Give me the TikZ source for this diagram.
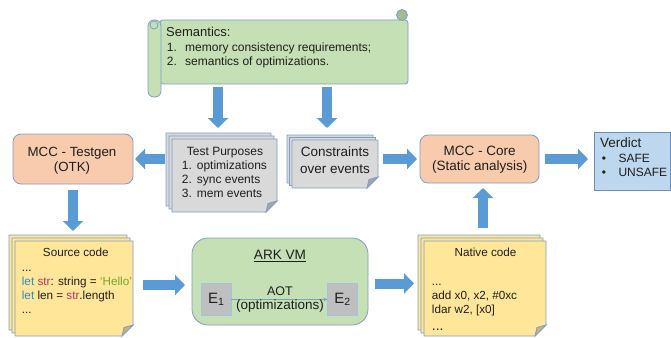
\documentclass[tikz,border=0pt]{standalone}
\usepackage{fontspec}
\setmainfont{Liberation Sans}
\usetikzlibrary{arrows.meta}
\definecolor{bordc}{HTML}{7F9DC6}
\definecolor{arrc}{HTML}{5B9BD5}
\definecolor{salmon}{HTML}{F8CBAD}
\definecolor{greenf}{HTML}{C5E0B4}
\definecolor{greend}{HTML}{A3BE8C}
\definecolor{grayp}{HTML}{D9D9D9}
\definecolor{grayf}{HTML}{A6A6A6}
\definecolor{yellp}{HTML}{FFE699}
\definecolor{yellf}{HTML}{C9B57A}
\definecolor{verdf}{HTML}{BDD7EE}
\definecolor{verdb}{HTML}{6A8EBF}
\definecolor{eboxf}{HTML}{BFBFBF}
\definecolor{eboxb}{HTML}{9DC3E6}
\definecolor{txtc}{HTML}{1E1E1E}
\definecolor{letc}{HTML}{2E8BC0}
\definecolor{strc}{HTML}{C0306A}
\definecolor{helc}{HTML}{6FA82E}
\newcommand\fs[1]{\fontsize{#1}{#1}\selectfont}
\newcommand\docpage[6]{%
  \filldraw[edge, fill=#5] (#1,#2) -- (#3,#2) -- (#3,#4-11) -- (#3-11,#4) -- (#1,#4) -- cycle;
  \filldraw[edge, fill=#6] (#3-11,#4) -- (#3-9,#4-8.5) -- (#3,#4-11) -- cycle;}
\tikzset{
  edge/.style={draw=bordc, line width=0.8pt},
  box/.style={draw=bordc, line width=0.8pt, rounded corners=8pt, inner sep=0pt, outer sep=0pt},
  frame/.style={inner sep=0pt, outer sep=0pt},
  barrow/.style={line width=10pt, draw=arrc, -{Triangle[length=10pt,width=20pt]}},
  txt/.style={inner sep=0pt, anchor=base west, text=txtc},
  ctxt/.style={inner sep=0pt, anchor=base, text=txtc},
}
\begin{document}
\begin{tikzpicture}[x=1pt,y=-1pt]
\useasboundingbox (0,0) rectangle (671,337);

% ---- scroll
\filldraw[edge, fill=greenf, rounded corners=3pt] (160,20) rectangle (408,84);
\filldraw[edge, fill=greend] (402,15) circle[radius=5.5pt];
\filldraw[edge, fill=greenf, rounded corners=6pt] (148,20) rectangle (161,97);
\draw[edge] (154,25) circle[radius=4pt];
\node[frame, minimum width=248pt, minimum height=64pt] (sem) at (284,52) {};
\node[txt] (s0) at (166,36.7) {\fs{13}Semantics:};
\node[txt] (s1n) at (166.7,51.7) {\fs{12}1.};
\node[txt] (s1) at (185,51.7) {\fs{12}memory consistency requirements;};
\node[txt] (s2n) at (166.7,65) {\fs{12}2.};
\node[txt] (s2) at (185,65) {\fs{12}semantics of optimizations.};

% ---- test purposes stack
\docpage{166}{133}{271}{206}{grayp}{grayf}
\docpage{169}{136}{274}{209}{grayp}{grayf}
\docpage{172}{139}{277}{212}{grayp}{grayf}
\node[frame, minimum width=105pt, minimum height=73pt] (tp) at (224.5,175.5) {};
\node[ctxt] (tp0) at (225,155) {\fs{12}Test Purposes};
\node[txt] (tp1n) at (181.7,169) {\fs{12}1.};
\node[txt] (tp1) at (196.7,169) {\fs{12}optimizations};
\node[txt] (tp2n) at (181.7,183) {\fs{12}2.};
\node[txt] (tp2) at (196.7,183) {\fs{12}sync events};
\node[txt] (tp3n) at (181.7,197) {\fs{12}3.};
\node[txt] (tp3) at (196.7,197) {\fs{12}mem events};

% ---- constraints stack
\docpage{287}{135}{373}{183}{grayp}{grayf}
\docpage{289.5}{137.5}{375.5}{185.5}{grayp}{grayf}
\docpage{292}{140}{378}{188}{grayp}{grayf}
\node[frame, minimum width=86pt, minimum height=48pt] (cons) at (335,164) {};
\node[ctxt] (c1) at (335,156.7) {\fs{13.5}Constraints};
\node[ctxt] (c2) at (335,173.3) {\fs{13.5}over events};

% ---- MCC Testgen
\node[box, fill=salmon, minimum width=120pt, minimum height=50pt] (tg) at (73,159) {};
\node[ctxt] (tg1) at (72,156) {\fs{13.3}MCC - Testgen};
\node[ctxt] (tg2) at (72,171.7) {\fs{13.3}(OTK)};

% ---- MCC Core
\node[box, fill=salmon, minimum width=119pt, minimum height=48pt] (core) at (479.5,159) {};
\node[ctxt] (co1) at (479.7,155.7) {\fs{13.5}MCC - Core};
\node[ctxt] (co2) at (479.7,170.7) {\fs{13.5}(Static analysis)};

% ---- Verdict
\node[frame, draw=verdb, line width=0.8pt, fill=verdf, minimum width=76pt, minimum height=58pt] (ver) at (632,161) {};
\node[txt] (v0) at (600,147.7) {\fs{13.5}Verdict};
\node[txt] (v1b) at (601.7,162.7) {\fs{12}•};
\node[txt] (v1) at (618.3,162.7) {\fs{12}SAFE};
\node[txt] (v2b) at (601.7,176.7) {\fs{12}•};
\node[txt] (v2) at (618.3,176.7) {\fs{12}UNSAFE};

% ---- Source code stack
\docpage{9}{235}{127}{330}{yellp}{yellf}
\docpage{12}{238}{130}{333}{yellp}{yellf}
\docpage{15}{241}{133}{336}{yellp}{yellf}
\node[frame, minimum width=118pt, minimum height=95pt] (src) at (74,288.5) {};
\node[ctxt] (sc0) at (75.8,256.7) {\fs{11.7}Source code};
\node[txt] (sc1) at (21.7,271.7) {\fs{11.7}...};
\node[txt] (sc2) at (21.7,285) {\fs{11.7}\textcolor{letc}{let} \textcolor{strc}{str}: string = \textcolor{helc}{‘Hello’}};
\node[txt] (sc3) at (21.7,299) {\fs{11.7}\textcolor{letc}{let} len = \textcolor{strc}{str}.length};
\node[txt] (sc4) at (21.7,313) {\fs{11.7}...};

% ---- Native code stack
\docpage{418}{235}{540}{330}{yellp}{yellf}
\docpage{421}{238}{543}{333}{yellp}{yellf}
\docpage{424}{241}{546}{336}{yellp}{yellf}
\node[frame, minimum width=122pt, minimum height=95pt] (nat) at (485,288.5) {};
\node[ctxt] (nc0) at (485.5,256.7) {\fs{11.7}Native code};
\node[txt] (nc1) at (431.7,285) {\fs{11.7}...};
\node[txt] (nc2) at (431.7,299) {\fs{11.7}add x0, x2, \#0xc};
\node[txt] (nc3) at (431.7,313.3) {\fs{11.7}ldar w2, [x0]};
\node[txt] (nc4) at (431.7,330) {\fs{14}...};

% ---- ARK VM
\node[box, fill=greenf, rounded corners=16pt, minimum width=176pt, minimum height=87pt] (ark) at (280,281.5) {};
\node[ctxt] (ark0) at (280,259.3) {\fs{13.6}\underline{ARK VM}};
\node[frame, draw=eboxb, line width=0.8pt, fill=eboxf, minimum width=29.5pt, minimum height=32pt, font=\fs{15}, text=txtc] (e1) at (216.25,299.5) {E\textsubscript{1}};
\node[frame, draw=eboxb, line width=0.8pt, fill=eboxf, minimum width=30pt, minimum height=32pt, font=\fs{15}, text=txtc] (e2) at (342.5,299.5) {E\textsubscript{2}};
\draw[draw=bordc, line width=0.6pt, -{Stealth[length=4pt,width=3.5pt]}] (e1.east) -- (e2.west);
\node[ctxt] (aot) at (280,295.7) {\fs{12.5}AOT};
\node[ctxt] (opt) at (280,309.3) {\fs{13.5}(optimizations)};

% ---- block arrows
\coordinate (a1) at ([xshift=-6.5pt]tp.north);
\coordinate (a2) at ([xshift=-8pt]cons.north);
\coordinate (a7) at ([yshift=-3.5pt]ark.west);
\coordinate (a8) at ([yshift=-2pt]ark.east);
\coordinate (a9) at ([xshift=3.5pt]core.south);
\draw[barrow, shorten <=3pt, shorten >=11pt] (a1 |- sem.south) -- (a1);
\draw[barrow, shorten <=3pt, shorten >=12pt] (a2 |- sem.south) -- (a2);
\draw[barrow, shorten <=7pt, shorten >=2pt] (tg.east -| tp.west) -- (tg.east);
\draw[barrow, shorten <=5pt, shorten >=3pt] (core.west -| cons.east) -- (core.west);
\draw[barrow, shorten <=6pt, shorten >=6pt] (core.east) -- (core.east -| ver.west);
\draw[barrow, shorten <=6pt, shorten >=10pt] (tg.south) -- (tg.south |- src.north);
\draw[barrow, shorten <=10pt, shorten >=7pt] (a7 -| src.east) -- (a7);
\draw[barrow, shorten <=7pt, shorten >=10pt] (a8) -- (a8 -| nat.west);
\draw[barrow, shorten <=13pt, shorten >=5pt] (a9 |- nat.north) -- (a9);
\end{tikzpicture}
\end{document}
